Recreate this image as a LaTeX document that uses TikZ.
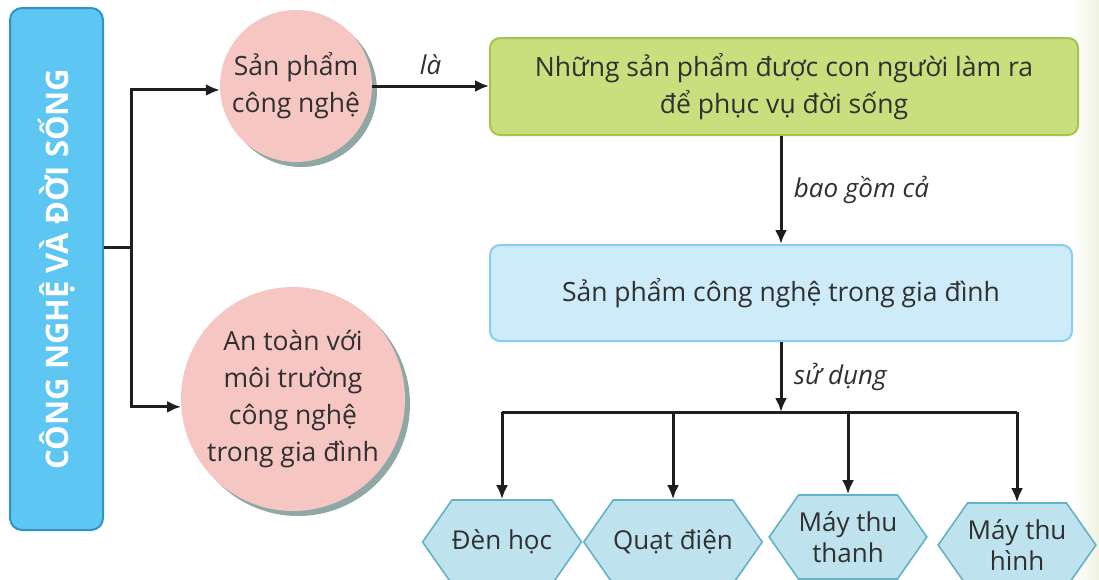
\documentclass[tikz,border=0pt]{standalone}
\usepackage{fontspec}
\setmainfont{Open Sans}
\usetikzlibrary{arrows.meta,shapes.symbols,shadows}

\definecolor{inkc}{HTML}{303030}
\definecolor{linec}{HTML}{1E1E1E}
\definecolor{titlefill}{HTML}{5EC6F2}
\definecolor{titleline}{HTML}{2F93C8}
\definecolor{pinkc}{HTML}{F6C6C3}
\definecolor{shadowc}{HTML}{8FA8A5}
\definecolor{greenfill}{HTML}{C9DF7E}
\definecolor{greenline}{HTML}{A2C64C}
\definecolor{bluefill}{HTML}{CDEBF8}
\definecolor{blueline}{HTML}{86CFEE}
\definecolor{hexfill}{HTML}{BEE3EE}
\definecolor{hexline}{HTML}{62B3C6}
\definecolor{paleedge}{HTML}{EFF3DF}

\begin{document}
\begin{tikzpicture}[x=1pt,y=-1pt,
    txt/.style={text=inkc,font=\fontsize{26.5}{37}\selectfont},
    bubble/.style={circle,fill=pinkc,txt,align=center,inner sep=0pt,
      drop shadow={shadow xshift=5pt,shadow yshift=-5pt,fill=shadowc,opacity=1}},
    panel/.style={rectangle,rounded corners=10pt,line width=2pt,txt,align=center},
    hexa/.style={signal,signal to=east and west,signal pointer angle=110,
      draw=hexline,fill=hexfill,line width=1.6pt,minimum height=84pt,inner sep=0pt,
      txt,font=\fontsize{26}{31}\selectfont,align=center},
    conn/.style={draw=linec,line width=3pt},
    arr/.style={conn,-{Latex[length=14pt,width=12pt]}},
    lbl/.style={text=inkc,font=\fontsize{26}{30}\selectfont\itshape}]

    % background
    \fill[white] (0,0) rectangle (1099,579);
    \shade[left color=white,right color=paleedge] (1072,0) rectangle (1099,579);
    \useasboundingbox (0,0) rectangle (1099,579);

    \node[rectangle,rounded corners=12pt,fill=titlefill,draw=titleline,line width=2pt,
      minimum width=93pt,minimum height=522pt,text=white,
      font=\fontsize{31}{35}\selectfont\bfseries] (title) at (56.5,269)
      {\rotatebox{90}{CÔNG NGHỆ VÀ ĐỜI SỐNG}};

    \node[bubble,minimum size=152pt] (prod) at (296,86) {Sản phẩm\\công nghệ};
    \node[bubble,minimum size=224pt] (safe) at (293,399)
      {An toàn với\\môi trường\\công nghệ\\trong gia đình};

    \node[panel,fill=greenfill,draw=greenline,minimum width=588pt,minimum height=97pt]
      (def) at (784,86.5) {Những sản phẩm được con người làm ra\\để phục vụ đời sống};
    \node[panel,fill=bluefill,draw=blueline,minimum width=582pt,minimum height=96pt]
      (home) at (781,293) {Sản phẩm công nghệ trong gia đình};

    \node[hexa,minimum width=143pt] (lamp) at (502,542) {Đèn học};
    \node[hexa,minimum width=158pt] (fan) at (673,542) {Quạt điện};
    \node[hexa,minimum width=144pt] (radio) at (848,537) {Máy thu\\thanh};
    \node[hexa,minimum width=157pt] (tv) at (1017,545) {Máy thu\\hình};

    \coordinate (fork) at (131,247);
    \coordinate (bus) at (781,412);

    \draw[conn] (title.east |- fork) -- (fork);
    \draw[arr] (fork) |- (prod.183);
    \draw[arr] (fork) |- (safe.184);
    \draw[arr] (prod.east) -- (prod.east -| def.west)
      node[lbl,midway,above=6pt] {là};
    \draw[arr] (home.north |- def.south) -- (home.north)
      node[lbl,midway,right=8pt] {bao gồm cả};
    \draw[arr] (home.south) -- (bus)
      node[lbl,midway,right=8pt] {sử dụng};
    \draw[conn] (lamp.north |- bus) -- (tv.north |- bus);
    \foreach \to in {lamp,fan,radio,tv}
        \draw[arr] (\to.north |- bus) -- (\to.north);
\end{tikzpicture}
\end{document}
